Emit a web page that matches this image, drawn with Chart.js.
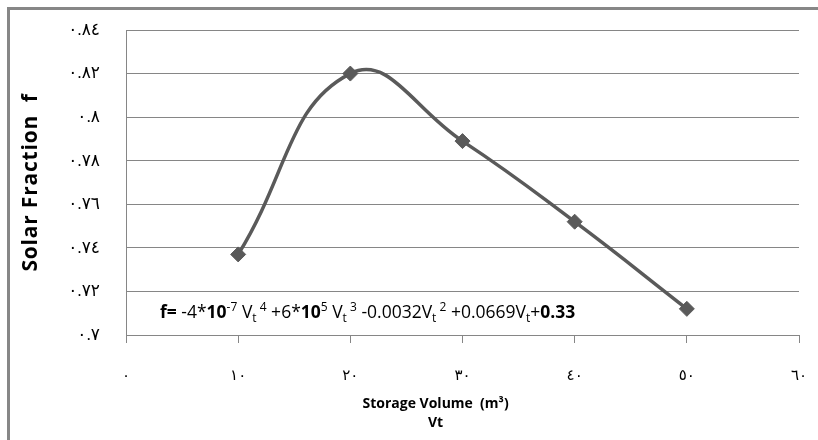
<!DOCTYPE html>
<html>
<head>
<meta charset="utf-8">
<script src="https://cdn.jsdelivr.net/npm/chart.js@4.4.0/dist/chart.umd.min.js"></script>
<style>
  html, body { margin: 0; padding: 0; background: #fff; overflow: hidden; }
  #wrap { position: relative; width: 818px; height: 440px; overflow: hidden; }
  #frame { position: absolute; left: 7px; top: 7px; width: 830px; height: 450px; border: 3px solid #878787; }
  canvas { position: absolute; left: 0; top: 0; }
</style>
</head>
<body>
<div id="wrap">
  <div id="frame"></div>
  <canvas id="myChart" width="818" height="440"></canvas>
</div>
<script>
// storage volume (m3) and the solar fraction
var volumes = [10, 20, 30, 40, 50];
var fractions = [0.737, 0.820, 0.789, 0.752, 0.712];

// axis ticks, labelled with Arabic-Indic digits like the original
var xTickValues = [0, 10, 20, 30, 40, 50, 60];
var xTickLabels = ['٠', '١٠', '٢٠', '٣٠', '٤٠', '٥٠', '٦٠'];
var yTickValues = [0.70, 0.72, 0.74, 0.76, 0.78, 0.80, 0.82, 0.84];
var yTickLabels = ['٠.٧', '٠.٧٢', '٠.٧٤', '٠.٧٦', '٠.٧٨', '٠.٨', '٠.٨٢', '٠.٨٤'];

var xTitleLines = ['Storage Volume  (m³)', 'Vt'];
var yTitle = 'Solar Fraction  f';

// fitted polynomial, as written on the chart
var equationParts = [
    ['f= ', 'b'], ['-4*', 'n'], ['10', 'b'], ['-7', 'sup'], [' V', 'n'], ['t', 'sub'], [' 4', 'sup'],
    [' +6*', 'n'], ['10', 'b'], ['5', 'sup'], [' V', 'n'], ['t', 'sub'], [' 3', 'sup'],
    [' -0.0032V', 'n'], ['t', 'sub'], [' 2', 'sup'],
    [' +0.0669V', 'n'], ['t', 'sub'], ['+', 'n'], ['0.33', 'b']
];

var baseFont = "'Open Sans', 'DejaVu Sans', sans-serif";
Chart.defaults.font.family = baseFont;
Chart.defaults.color = '#000';

// the y title is a bit more spread out in the original
function spaceOut(scale, method, spacing) {
    if (scale['_spaced_' + method]) return;
    var orig = scale[method];
    scale[method] = function () {
        var c = this.ctx;
        c.save();
        c.letterSpacing = spacing;
        orig.apply(this, arguments);
        c.restore();
    };
    scale['_spaced_' + method] = true;
}

// equation text and the (slightly off-centre) x axis title
var textPlugin = {
    id: 'texts',
    afterDraw: function (chart) {
        var ctx = chart.ctx;
        var area = chart.chartArea;
        var x = area.left + 34;
        var y = area.bottom - 17;
        ctx.save();
        ctx.fillStyle = '#000';
        ctx.textBaseline = 'alphabetic';
        ctx.textAlign = 'left';
        for (var i = 0; i < equationParts.length; i++) {
            var txt = equationParts[i][0];
            var kind = equationParts[i][1];
            var dy = 0;
            if (kind === 'b') ctx.font = 'bold 17.5px ' + baseFont;
            else if (kind === 'sup') { ctx.font = '12px ' + baseFont; dy = -7; }
            else if (kind === 'sub') { ctx.font = '12px ' + baseFont; dy = 4; }
            else ctx.font = '17.5px ' + baseFont;
            ctx.fillText(txt, x, y + dy);
            x += ctx.measureText(txt).width;
        }

        ctx.font = 'bold 14px ' + baseFont;
        ctx.textAlign = 'center';
        ctx.textBaseline = 'middle';
        var cx = area.left + (area.right - area.left) * 0.46;
        ctx.fillText(xTitleLines[0], cx, 404);
        ctx.fillText(xTitleLines[1], cx, 423);
        ctx.restore();
    }
};

var ctx = document.getElementById('myChart');
var myChart = new Chart(ctx, {
    type: 'line',
    data: {
        datasets: [{
            data: volumes.map(function (v, i) { return { x: v, y: fractions[i] }; }),
            borderColor: '#5a5a5a',
            borderWidth: 3.5,
            tension: 0.45,
            pointStyle: 'rectRot',
            pointRadius: 7.5,
            pointBackgroundColor: '#5a5a5a',
            pointBorderColor: '#5a5a5a',
            pointBorderWidth: 1,
            fill: false
        }]
    },
    options: {
        responsive: false,
        animation: false,
        devicePixelRatio: 1,
        layout: {
            autoPadding: false,
            padding: { top: 30, right: 19, bottom: 0, left: 0 }
        },
        plugins: {
            legend: { display: false },
            tooltip: { enabled: false }
        },
        scales: {
            x: {
                type: 'linear',
                min: 0,
                max: 60,
                afterBuildTicks: function (scale) {
                    scale.ticks = xTickValues.map(function (v) { return { value: v }; });
                },
                afterFit: function (scale) {
                    scale.height = 105;
                    scale.paddingLeft = 0;
                    scale.paddingRight = 0;
                },
                ticks: {
                    padding: 24,
                    maxRotation: 0,
                    font: { size: 15 },
                    callback: function (value) { return xTickLabels[Math.round(value / 10)]; }
                },
                grid: {
                    drawOnChartArea: false,
                    drawTicks: true,
                    tickLength: 8,
                    color: '#868686'
                },
                border: { display: true, color: '#868686', width: 1 },
                title: { display: false }
            },
            y: {
                min: 0.7,
                max: 0.84,
                afterBuildTicks: function (scale) {
                    scale.ticks = yTickValues.map(function (v) { return { value: v }; });
                },
                afterFit: function (scale) {
                    scale.width = 126;
                    scale.paddingTop = 0;
                    scale.paddingBottom = 0;
                    spaceOut(scale, 'drawTitle', '0.8px');
                },
                ticks: {
                    padding: 26,
                    font: { size: 17 },
                    callback: function (value) { return yTickLabels[Math.round((value - 0.7) / 0.02)]; }
                },
                grid: {
                    drawTicks: false,
                    color: '#868686'
                },
                border: { display: true, color: '#868686', width: 1 },
                title: {
                    display: true,
                    text: yTitle,
                    font: { size: 21, weight: 'bold' },
                    padding: { top: 18, bottom: 0 }
                }
            }
        }
    },
    plugins: [textPlugin]
});
</script>
</body>
</html>
